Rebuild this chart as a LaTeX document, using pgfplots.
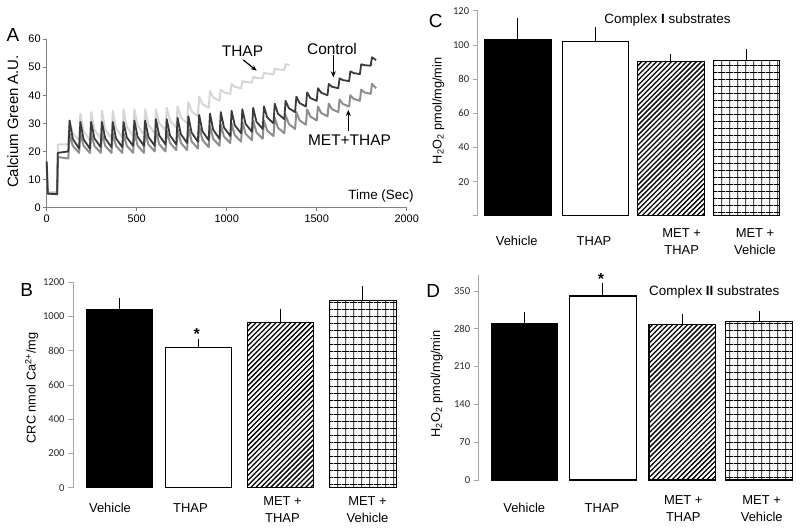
\documentclass[border=0pt]{standalone}
\usepackage{pgfplots}
\pgfplotsset{compat=1.18}
\usepackage{fontspec}
\setmainfont{Liberation Sans}
\newfontfamily\carlito{Carlito}
\usetikzlibrary{patterns,arrows.meta}
\pgfdeclarepatternformonly{diagstripes}{\pgfqpoint{-1pt}{-1pt}}{\pgfqpoint{6pt}{6pt}}{\pgfqpoint{5pt}{5pt}}{%
 \pgfsetlinewidth{1.3pt}\pgfpathmoveto{\pgfqpoint{0pt}{0pt}}\pgfpathlineto{\pgfqpoint{5.1pt}{5.1pt}}\pgfusepath{stroke}}
\pgfdeclarepatternformonly{rectgrid}{\pgfqpoint{0pt}{0pt}}{\pgfqpoint{8.2pt}{7pt}}{\pgfqpoint{8.2pt}{7pt}}{%
 \pgfsetlinewidth{0.8pt}\pgfpathmoveto{\pgfqpoint{4.1pt}{0pt}}\pgfpathlineto{\pgfqpoint{4.1pt}{7pt}}%
 \pgfpathmoveto{\pgfqpoint{0pt}{3.5pt}}\pgfpathlineto{\pgfqpoint{8.2pt}{3.5pt}}\pgfusepath{stroke}}
\definecolor{thapc}{HTML}{D6D6D6}
\definecolor{ctrlc}{HTML}{3A3A3A}
\definecolor{metc}{HTML}{8E8E8E}
\pgfplotsset{
 barax/.style={anchor=south west, scale only axis, axis x line=none, axis y line=left,
  axis line style={-, draw=black!35, line width=0.9pt}, ytick style={draw=black!35, line width=0.9pt},
  tick align=outside, major tick length=5bp,
  yticklabel style={font=\carlito\fontsize{10.6}{12}\selectfont, text=black!85},
  /pgf/number format/assume math mode=true, /pgf/number format/1000 sep={}, clip=false},
 mybar/.style={ybar, bar width=66.5, bar shift=0pt, draw=black, line width=1.1pt,
  error bars/y dir=plus, error bars/y explicit,
  error bars/error bar style={black, line width=1pt},
  error bars/error mark options={black, line width=1pt, mark size=3bp}}
}
\begin{document}
\begin{tikzpicture}
\useasboundingbox (0,0) rectangle (800bp,529bp);
% ---------- Panel A ----------
\begin{axis}[at={(46.7bp,321.3bp)}, anchor=south west, scale only axis, width=360bp, height=168.7bp,
  xmin=0, xmax=2000, ymin=0, ymax=60, axis x line=bottom, axis y line=left,
  axis line style={-, draw=black!50, line width=0.9pt}, tick style={draw=black!50, line width=0.9pt},
  tick align=outside, major tick length=3.5bp, xtick={0,500,...,2000}, ytick={0,10,...,60},
  ticklabel style={font=\fontsize{11}{13}\selectfont},
  yticklabel style={xshift=1bp},
  /pgf/number format/assume math mode=true, /pgf/number format/1000 sep={}, clip=false]
\addplot[color=thapc, line width=2pt, line join=round] coordinates {
(0,5.5) (6,5.5) (58,5.5) (62,22.5) (118,22.5)
(120,22.5) (127,31) (145,26.5)
(180,24) (187,33.5) (205,27.3)
(240,24) (247,34) (265,27.8)
(300,24.5) (307,34.5) (325,28)
(360,24.5) (367,34.5) (385,28.3)
(420,25) (427,35) (445,28.8)
(480,25.5) (487,35) (505,29.2)
(540,26) (547,35) (565,29.5)
(600,26.5) (607,35) (625,30.1)
(660,27.5) (667,35.5) (685,31)
(720,28.5) (727,36) (745,32.1)
(780,30) (787,37.5) (805,34.3)
(840,32.5) (847,39.5) (865,36.9)
(900,35.5) (907,41.5) (925,39.2)
(960,38) (967,42) (985,41)
(1020,40.5) (1027,44) (1045,43)
(1080,42.5) (1087,45) (1105,44.7)
(1140,44.5) (1147,46.5) (1165,46.2)
(1200,46) (1207,48) (1225,47.7)
(1260,47.5) (1267,49.5) (1285,49.2)
(1320,49) (1327,51) (1350,50.8)
};
\addplot[color=metc, line width=2pt, line join=round] coordinates {
(0,16) (6,5) (58,5) (62,18) (118,17.5)
(120,17.5) (127,26.5) (145,22)
(180,19.5) (187,26.5) (205,22)
(240,19.5) (247,26.5) (265,22)
(300,19.5) (307,26.5) (325,22)
(360,19.5) (367,26.5) (385,22)
(420,19.5) (427,26.5) (445,22)
(480,19.5) (487,27) (505,22.1)
(540,19.5) (547,27) (565,22.5)
(600,20) (607,27.5) (625,22.6)
(660,20) (667,27.5) (685,23)
(720,20.5) (727,28) (745,23.1)
(780,20.5) (787,28.5) (805,23.6)
(840,21) (847,29) (865,24.1)
(900,21.5) (907,29) (925,24.5)
(960,22) (967,29.5) (985,25.3)
(1020,23) (1027,30) (1045,25.8)
(1080,23.5) (1087,30.5) (1105,26.3)
(1140,24) (1147,31) (1165,26.8)
(1200,24.5) (1207,31) (1225,27.4)
(1260,25.5) (1267,32) (1285,28.4)
(1320,26.5) (1327,33) (1345,29.8)
(1380,28) (1387,34) (1405,31.1)
(1440,29.5) (1447,35) (1465,32.4)
(1500,31) (1507,36) (1525,33.7)
(1560,32.5) (1567,37) (1585,35)
(1620,34) (1627,38.5) (1645,36.9)
(1680,36) (1687,40) (1705,38.7)
(1740,38) (1747,42) (1765,41)
(1800,40.5) (1807,44) (1830,42.5)
};
\addplot[color=ctrlc, line width=1.8pt, line join=round] coordinates {
(0,16.5) (6,5) (58,4.8) (62,19.5) (118,20)
(120,20) (127,31) (145,24.5)
(180,21) (187,30.5) (205,24.3)
(240,21) (247,30.5) (265,24.7)
(300,21.5) (307,30.5) (325,24.7)
(360,21.5) (367,30.5) (385,24.7)
(420,21.5) (427,30.5) (445,25)
(480,22) (487,31) (505,25.2)
(540,22) (547,31) (565,25.2)
(600,22) (607,31.5) (625,25.7)
(660,22.5) (667,31.5) (685,25.7)
(720,22.5) (727,32) (745,26.2)
(780,23) (787,32.5) (805,26.7)
(840,23.5) (847,33) (865,27.2)
(900,24) (907,33.5) (925,27.7)
(960,24.5) (967,34) (985,28.5)
(1020,25.5) (1027,34.5) (1045,29.3)
(1080,26.5) (1087,35) (1105,29.8)
(1140,27) (1147,35.5) (1165,30.6)
(1200,28) (1207,36) (1225,32.1)
(1260,30) (1267,37) (1285,33.4)
(1320,31.5) (1327,38) (1345,35.4)
(1380,34) (1387,39.5) (1405,37.2)
(1440,36) (1447,41) (1465,39)
(1500,38) (1507,42.5) (1525,40.9)
(1560,40) (1567,44) (1585,43)
(1620,42.5) (1627,46) (1645,45.4)
(1680,45) (1687,48.5) (1705,47.9)
(1740,47.5) (1747,51) (1765,50.7)
(1800,50.5) (1807,53.5) (1830,52.5)
};
\end{axis}
% ---------- Panel B ----------
\begin{axis}[barax, at={(73bp,41.3bp)}, width=327bp, height=205.4bp, xmin=73, xmax=400,
  ymin=0, ymax=1200, ytick={0,200,...,1200}]
\addplot[mybar, fill=black] coordinates {(119.3,1038) +- (0,55)};
\addplot[mybar, fill=white] coordinates {(198.3,818) +- (0,35)};
\addplot[mybar, pattern=diagstripes] coordinates {(280.3,966) +- (0,59)};
\addplot[mybar, pattern=rectgrid] coordinates {(362.8,1095) +- (0,68)};
\end{axis}
% ---------- Panel C ----------
\begin{axis}[barax, at={(477.7bp,313.2bp)}, width=307.3bp, height=205bp, xmin=477.7, xmax=785,
  ymin=0, ymax=120, ytick={0,20,...,120}, yticklabels={,20,40,60,80,100,120}]
\addplot[mybar, fill=black] coordinates {(517.7,103.3) +- (0,10.7)};
\addplot[mybar, fill=white] coordinates {(595.5,102.1) +- (0,6.4)};
\addplot[mybar, pattern=diagstripes] coordinates {(670.8,90.2) +- (0,2.6)};
\addplot[mybar, pattern=rectgrid] coordinates {(746.5,90.8) +- (0,4.9)};
\end{axis}
% ---------- Panel D ----------
\begin{axis}[barax, at={(478.7bp,49bp)}, width=316.3bp, height=205.2bp, xmin=478.7, xmax=795,
  ymin=0, ymax=380, ytick={0,70,...,350}]
\addplot[mybar, fill=black] coordinates {(524.5,290.1) +- (0,15.5)};
\addplot[mybar, fill=white] coordinates {(602.8,340.7) +- (0,18.6)};
\addplot[mybar, pattern=diagstripes] coordinates {(682.2,288.3) +- (0,12.9)};
\addplot[mybar, pattern=rectgrid] coordinates {(759,293.8) +- (0,13.6)};
\end{axis}
% ---------- Text ----------
\tikzset{lbl/.style={font=\fontsize{19}{22}\selectfont, inner sep=0pt},
 cat/.style={font=\fontsize{13}{17}\selectfont, align=center, inner sep=0pt},
 ann/.style={font=\fontsize{15.5}{18}\selectfont, inner sep=0pt},
 ylab/.style={rotate=90, inner sep=0pt}}
\node[lbl] at (13bp,494bp) {A};
\node[lbl] at (26.7bp,239bp) {B};
\node[lbl] at (435.7bp,508.3bp) {C};
\node[lbl] at (433.3bp,237.7bp) {D};
\node[ylab, font=\fontsize{15}{17}\selectfont] at (12.7bp,407.5bp) {Calcium Green A.U.};
\node[ylab, font=\fontsize{12.8}{15}\selectfont] at (31.7bp,141bp) {CRC nmol Ca\textsuperscript{2+}/mg};
\node[ylab, font=\fontsize{12.8}{15}\selectfont] at (438.3bp,418.2bp) {H\textsubscript{2}O\textsubscript{2} pmol/mg/min};
\node[ylab, font=\fontsize{12.8}{15}\selectfont] at (436.7bp,145bp) {H\textsubscript{2}O\textsubscript{2} pmol/mg/min};
\node[ann] at (242.5bp,478bp) {THAP};
\node[ann] at (332bp,480bp) {Control};
\node[ann] at (349.5bp,389bp) {MET+THAP};
\draw[-{Stealth[length=6bp,width=5bp]}, line width=1.2pt] (243.3bp,469bp) -- (256.7bp,458.3bp);
\draw[-{Stealth[length=6bp,width=5bp]}, line width=1.2pt] (333.3bp,474bp) -- (333.3bp,451.7bp);
\draw[-{Stealth[length=6bp,width=5bp]}, line width=1.2pt] (348.3bp,398.3bp) -- (348.3bp,419bp);
\node[font=\fontsize{13.5}{16}\selectfont, inner sep=0pt] at (381bp,333bp) {Time (Sec)};
\node[font=\fontsize{13.5}{16}\selectfont, inner sep=0pt] at (667.5bp,509bp) {Complex \textbf{I} substrates};
\node[font=\fontsize{13.5}{16}\selectfont, inner sep=0pt] at (714.2bp,236.7bp) {Complex \textbf{II} substrates};
\node[font=\fontsize{16}{18}\selectfont\bfseries, inner sep=0pt, anchor=base] at (196.7bp,189.7bp) {*};
\node[font=\fontsize{16}{18}\selectfont\bfseries, inner sep=0pt, anchor=base] at (601bp,244.7bp) {*};
% categories B
\node[cat] at (110bp,21bp) {Vehicle};
\node[cat] at (190.5bp,21bp) {THAP};
\node[cat] at (282.5bp,19.5bp) {MET +\\THAP};
\node[cat] at (367.5bp,19.5bp) {MET +\\Vehicle};
% categories C
\node[cat] at (516.7bp,288.3bp) {Vehicle};
\node[cat] at (594bp,288.3bp) {THAP};
\node[cat] at (681.7bp,287.3bp) {MET +\\THAP};
\node[cat] at (755bp,287.3bp) {MET +\\Vehicle};
% categories D
\node[cat] at (524.2bp,20.7bp) {Vehicle};
\node[cat] at (602bp,21bp) {THAP};
\node[cat] at (683.3bp,20.7bp) {MET +\\THAP};
\node[cat] at (761.7bp,20.7bp) {MET +\\Vehicle};
\end{tikzpicture}
\end{document}
